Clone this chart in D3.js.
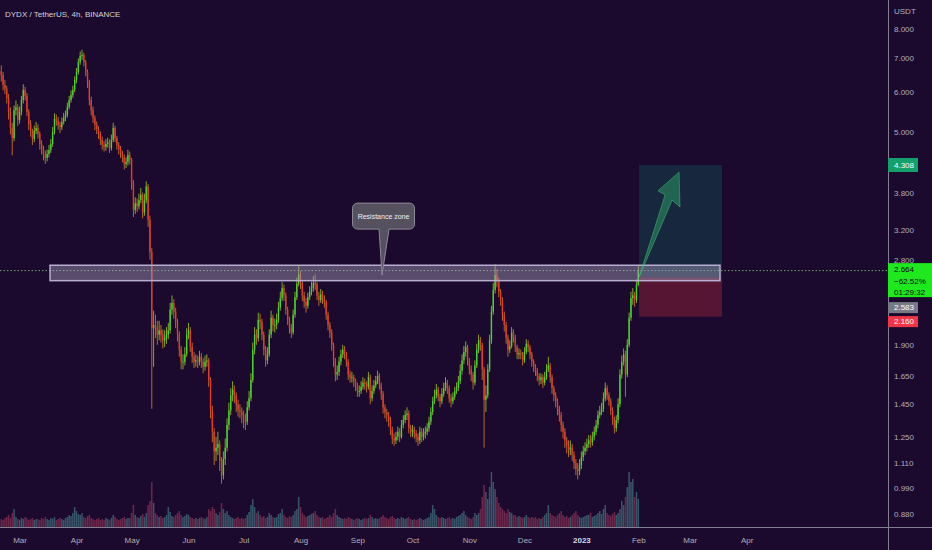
<!DOCTYPE html>
<html><head><meta charset="utf-8">
<script src="https://cdn.jsdelivr.net/npm/d3@7"></script>
<style>html,body{margin:0;padding:0;background:#1b0a2d;}svg{display:block}</style>
</head><body><svg id="c" width="932" height="550"></svg>
<script>
// ---------------- DATA ----------------
const chartTitle = "DYDX / TetherUS, 4h, BINANCE";
const currencyLabel = "USDT";
const firstDate = "2022-02-19";          // first daily candle
const firstOpen = 6.60;
const closes = [
6.49,6.20,6.10,5.85,5.48,5.10,4.87,5.53,5.60,5.29,
5.48,5.79,6.06,5.90,5.48,5.19,5.01,4.85,5.03,5.10,
4.96,4.74,4.63,4.51,4.45,4.53,4.61,4.74,5.01,5.31,
5.27,5.17,5.12,5.24,5.34,5.41,5.61,5.79,5.92,6.06,
6.34,6.58,6.88,7.08,7.11,6.88,6.58,6.28,5.79,5.53,
5.34,5.17,5.07,4.96,4.83,4.72,4.68,4.74,4.77,4.65,
4.83,5.10,4.87,4.72,4.63,4.55,4.47,4.33,4.37,4.51,
4.41,3.98,3.51,3.62,3.57,3.67,3.76,3.47,3.67,3.91,
3.36,2.90,2.05,2.08,2.06,1.99,2.03,1.99,1.94,1.96,
1.99,2.03,2.23,2.30,2.21,2.11,1.99,1.86,1.76,1.76,
1.82,1.99,2.03,1.88,1.80,1.76,1.77,1.76,1.80,1.76,
1.72,1.76,1.77,1.62,1.41,1.28,1.17,1.19,1.21,1.12,
1.05,1.13,1.19,1.32,1.41,1.51,1.55,1.51,1.45,1.41,
1.40,1.38,1.35,1.34,1.43,1.49,1.62,1.86,1.99,1.96,
2.13,2.11,1.99,1.86,1.77,1.82,1.99,2.15,2.08,2.08,
2.13,2.25,2.35,2.46,2.38,2.23,2.13,2.05,2.01,2.18,
2.36,2.51,2.62,2.52,2.38,2.31,2.27,2.36,2.42,2.46,
2.52,2.50,2.38,2.33,2.39,2.35,2.31,2.18,2.08,2.01,
1.90,1.77,1.66,1.68,1.76,1.82,1.86,1.82,1.76,1.66,
1.64,1.64,1.61,1.58,1.54,1.54,1.57,1.60,1.59,1.57,
1.64,1.49,1.54,1.58,1.61,1.65,1.58,1.52,1.43,1.40,
1.38,1.35,1.29,1.24,1.23,1.25,1.28,1.25,1.32,1.35,
1.38,1.39,1.30,1.28,1.29,1.27,1.25,1.23,1.28,1.25,
1.27,1.28,1.30,1.34,1.40,1.47,1.51,1.55,1.50,1.47,
1.52,1.56,1.60,1.56,1.49,1.47,1.50,1.54,1.56,1.61,
1.69,1.77,1.84,1.88,1.77,1.70,1.66,1.60,1.73,1.86,
1.94,1.90,1.70,1.48,1.51,1.70,1.94,2.21,2.44,2.61,
2.55,2.42,2.33,2.18,2.08,1.96,1.86,1.89,2.01,1.96,
1.88,1.82,1.83,1.82,1.77,1.84,1.91,1.88,1.82,1.76,
1.72,1.69,1.65,1.62,1.64,1.60,1.64,1.70,1.73,1.64,
1.56,1.51,1.47,1.42,1.38,1.32,1.28,1.23,1.20,1.18,
1.19,1.15,1.11,1.08,1.07,1.10,1.14,1.17,1.19,1.21,
1.23,1.22,1.25,1.28,1.32,1.38,1.40,1.42,1.49,1.56,
1.51,1.47,1.41,1.35,1.30,1.35,1.45,1.66,1.76,1.82,
1.66,1.90,2.15,2.35,2.38,2.33,2.50,2.664];
const highs = [
6.78,6.58,6.35,6.18,5.95,5.60,5.22,5.65,5.78,5.68,
5.62,5.90,6.22,6.15,5.98,5.55,5.28,5.08,5.15,5.24,
5.18,5.02,4.82,4.70,4.60,4.62,4.72,4.85,5.12,5.45,
5.42,5.36,5.25,5.35,5.46,5.52,5.72,5.90,6.05,6.18,
6.45,6.70,7.00,7.22,7.28,7.18,6.95,6.65,6.35,5.88,
5.62,5.40,5.25,5.14,5.02,4.90,4.80,4.85,4.88,4.84,
4.95,5.22,5.15,4.92,4.78,4.70,4.60,4.52,4.46,4.62,
4.58,4.45,4.02,3.72,3.70,3.78,3.88,3.80,3.78,4.00,
3.95,3.42,2.95,2.22,2.18,2.12,2.12,2.08,2.04,2.03,
2.06,2.10,2.30,2.38,2.34,2.25,2.14,2.02,1.89,1.82,
1.88,2.05,2.10,2.06,1.92,1.84,1.82,1.81,1.85,1.83,
1.79,1.81,1.82,1.79,1.64,1.44,1.30,1.25,1.28,1.23,
1.14,1.17,1.24,1.36,1.46,1.56,1.61,1.58,1.53,1.48,
1.45,1.43,1.41,1.39,1.47,1.54,1.67,1.92,2.06,2.04,
2.20,2.19,2.14,2.02,1.89,1.88,2.04,2.22,2.18,2.14,
2.19,2.31,2.42,2.53,2.50,2.41,2.26,2.16,2.09,2.23,
2.42,2.58,2.72,2.66,2.55,2.42,2.35,2.41,2.48,2.53,
2.60,2.62,2.53,2.42,2.45,2.43,2.38,2.33,2.21,2.11,
2.04,1.92,1.79,1.73,1.80,1.86,1.90,1.89,1.84,1.78,
1.69,1.68,1.66,1.63,1.60,1.58,1.61,1.64,1.63,1.61,
1.68,1.66,1.58,1.62,1.65,1.69,1.67,1.60,1.54,1.45,
1.42,1.40,1.37,1.31,1.27,1.28,1.31,1.30,1.35,1.38,
1.41,1.43,1.41,1.32,1.32,1.31,1.29,1.27,1.31,1.30,
1.30,1.31,1.33,1.37,1.43,1.50,1.55,1.59,1.57,1.52,
1.56,1.60,1.64,1.62,1.58,1.52,1.53,1.57,1.60,1.65,
1.74,1.82,1.89,1.93,1.90,1.79,1.73,1.68,1.77,1.91,
1.99,1.97,1.92,1.72,1.58,1.74,1.99,2.27,2.52,2.74,
2.68,2.58,2.45,2.36,2.21,2.11,1.99,1.94,2.06,2.04,
1.99,1.90,1.87,1.86,1.84,1.88,1.95,1.94,1.90,1.84,
1.78,1.74,1.71,1.67,1.67,1.66,1.68,1.74,1.80,1.75,
1.66,1.58,1.53,1.49,1.44,1.40,1.34,1.30,1.25,1.23,
1.23,1.21,1.17,1.13,1.11,1.13,1.17,1.20,1.22,1.24,
1.26,1.26,1.28,1.31,1.35,1.41,1.44,1.46,1.53,1.60,
1.58,1.53,1.49,1.43,1.37,1.38,1.49,1.70,1.81,1.87,
1.85,1.95,2.20,2.42,2.46,2.42,2.56,2.72];
const lows = [
6.30,6.05,5.95,5.70,5.30,4.95,4.50,4.80,5.40,5.15,
5.20,5.40,5.70,5.78,5.38,5.05,4.90,4.72,4.78,4.96,
4.86,4.62,4.52,4.40,4.33,4.38,4.46,4.55,4.68,4.95,
5.15,5.06,4.98,5.05,5.18,5.26,5.35,5.55,5.72,5.85,
6.00,6.25,6.50,6.80,6.95,6.75,6.45,6.12,5.65,5.40,
5.22,5.05,4.96,4.85,4.72,4.62,4.58,4.60,4.66,4.55,
4.60,4.78,4.78,4.62,4.52,4.45,4.36,4.22,4.25,4.30,
4.32,3.85,3.40,3.45,3.48,3.52,3.62,3.38,3.42,3.62,
3.25,2.80,1.42,1.72,1.96,1.90,1.94,1.92,1.87,1.88,
1.91,1.95,2.00,2.18,2.14,2.05,1.93,1.80,1.70,1.70,
1.73,1.80,1.95,1.84,1.75,1.71,1.72,1.71,1.73,1.71,
1.67,1.69,1.72,1.57,1.36,1.22,1.10,1.12,1.15,1.07,
1.01,1.03,1.10,1.17,1.29,1.38,1.47,1.46,1.40,1.37,
1.36,1.33,1.30,1.29,1.32,1.41,1.47,1.60,1.82,1.90,
1.93,2.04,1.94,1.81,1.72,1.74,1.80,1.96,2.02,2.01,
2.04,2.10,2.22,2.32,2.32,2.18,2.08,2.00,1.96,1.99,
2.15,2.33,2.48,2.45,2.32,2.25,2.20,2.24,2.33,2.38,
2.42,2.44,2.33,2.27,2.30,2.29,2.25,2.13,2.03,1.96,
1.85,1.72,1.61,1.62,1.65,1.73,1.79,1.78,1.72,1.62,
1.60,1.60,1.57,1.54,1.50,1.50,1.52,1.55,1.55,1.53,
1.55,1.45,1.47,1.52,1.56,1.59,1.55,1.48,1.39,1.36,
1.34,1.31,1.26,1.21,1.20,1.21,1.23,1.22,1.24,1.30,
1.33,1.35,1.27,1.25,1.25,1.24,1.22,1.20,1.21,1.22,
1.23,1.24,1.26,1.28,1.32,1.38,1.45,1.49,1.47,1.43,
1.45,1.50,1.54,1.52,1.46,1.43,1.45,1.48,1.52,1.54,
1.59,1.66,1.74,1.80,1.73,1.66,1.61,1.55,1.58,1.71,
1.83,1.85,1.62,1.19,1.40,1.49,1.68,1.91,2.18,2.40,
2.47,2.36,2.27,2.12,2.02,1.91,1.80,1.83,1.87,1.92,
1.84,1.78,1.78,1.78,1.73,1.75,1.82,1.84,1.78,1.72,
1.68,1.65,1.61,1.58,1.59,1.56,1.58,1.62,1.68,1.60,
1.52,1.47,1.43,1.38,1.34,1.28,1.24,1.19,1.16,1.14,
1.15,1.12,1.08,1.05,1.03,1.05,1.08,1.12,1.15,1.17,
1.19,1.19,1.20,1.23,1.26,1.30,1.36,1.38,1.40,1.47,
1.48,1.44,1.38,1.32,1.27,1.28,1.33,1.43,1.63,1.73,
1.50,1.64,1.88,2.12,2.28,2.26,2.30,2.48];
const volumes = [
8,7,9,10,12,9,14,18,10,8,
7,9,8,10,9,7,8,9,7,8,
8,7,9,8,10,8,7,9,8,10,
7,8,9,8,7,9,10,12,11,14,
20,16,13,12,14,10,9,11,12,9,
8,7,8,9,7,8,7,9,8,7,
9,12,10,8,7,8,9,10,8,9,
9,14,22,12,10,9,11,13,10,14,
22,26,45,24,14,12,10,11,9,10,
12,20,15,11,10,12,14,16,12,10,
11,13,12,10,9,8,9,8,9,10,
9,8,10,18,16,20,18,14,12,15,
24,18,14,16,12,10,9,8,9,10,
8,9,8,9,12,15,22,28,20,14,
16,12,10,11,9,10,14,12,10,9,
10,13,14,18,12,10,9,11,10,12,
16,18,30,20,14,12,10,11,12,13,
14,16,12,10,9,10,8,9,10,12,
10,14,18,12,10,9,8,9,8,10,
9,8,7,8,9,8,7,8,9,8,
9,12,10,8,9,8,9,10,12,10,
9,8,10,11,9,8,9,8,10,9,
8,9,10,8,7,8,7,8,9,8,
7,8,9,10,14,22,18,12,10,9,
10,9,8,9,10,8,9,8,10,11,
12,14,16,12,10,9,8,10,14,12,
14,18,30,42,35,28,40,55,45,38,
30,24,20,18,16,14,18,15,14,12,
12,10,11,10,9,10,12,10,9,10,
9,10,8,9,8,10,12,14,22,14,
12,11,10,12,14,16,12,10,11,9,
10,12,14,16,12,10,9,10,11,12,
12,14,10,11,12,14,16,13,18,22,
14,12,11,13,15,12,14,18,26,22,
30,40,55,45,48,30,35,28];
const priceTicks = [8,7,6,5,3.8,3.2,2.8,1.9,1.65,1.45,1.25,1.11,0.99,0.88];
const monthTicks = ["2022-03-01","2022-04-01","2022-05-01","2022-06-01","2022-07-01","2022-08-01","2022-09-01",
  "2022-10-01","2022-11-01","2022-12-01","2023-01-01","2023-02-01","2023-03-01","2023-04-01"];
const zoneTop = 2.73, zoneBottom = 2.545, zoneStart = "2022-03-17T14:00Z", zoneEnd = "2023-03-17T12:00Z";
const calloutText = "Resistance zone", calloutDate = "2022-09-14T10:00Z", calloutPrice = 2.61;
const entryPrice = 2.583, targetPrice = 4.308, stopPrice = 2.160;
const positionStart = "2023-02-01T10:00Z", positionEnd = "2023-03-18T14:00Z";
const lastPrice = 2.664, lastChange = "−62.52%", countdown = "01:29:32";
// arrow outline (date, price)
const arrowPoints = [["2023-02-01T12:00Z",2.59],["2023-02-15T14:00Z",3.76],["2023-02-11T17:00Z",3.83],
  ["2023-02-23T05:00Z",4.17],["2023-02-23T17:00Z",3.56],["2023-02-19T10:00Z",3.67]];

// ---------------- DRAW ----------------
const W = 932, H = 550, plotR = 888, plotB = 527;
const svg = d3.select("#c");
const font = "'Liberation Sans', Arial, sans-serif";
svg.append("rect").attr("width", W).attr("height", H).attr("fill", "#1b0a2d");

const x = d3.scaleUtc().domain([new Date("2022-03-01T00:00Z"), new Date("2023-02-01T00:00Z")]).range([19.6, 638.3]);
const y = d3.scaleLog().domain([0.88, 8]).range([514, 29]);
const v = d3.scaleLinear().domain([0, 100]).range([plotB, plotB - 100]);

const t0 = new Date(firstDate + "T00:00Z").getTime();
const candles = closes.map((c, i) => ({
  date: new Date(t0 + i * 86400000),
  o: i === 0 ? firstOpen : closes[i - 1], c, h: highs[i], l: lows[i], vol: volumes[i]
}));

svg.append("defs").append("clipPath").attr("id", "plot")
  .append("rect").attr("x", 0).attr("y", 0).attr("width", plotR).attr("height", plotB);
const g = svg.append("g").attr("clip-path", "url(#plot)");

// volume
g.append("g").selectAll("rect").data(candles).join("rect")
  .attr("x", d => x(d.date) - 0.75).attr("width", 1.5)
  .attr("y", d => v(d.vol)).attr("height", d => plotB - v(d.vol))
  .attr("fill", d => d.c >= d.o ? "rgba(80,150,155,0.55)" : "rgba(190,70,105,0.5)");

// candles
const cg = g.append("g");
cg.selectAll("line").data(candles).join("line")
  .attr("x1", d => x(d.date)).attr("x2", d => x(d.date))
  .attr("y1", d => y(d.h)).attr("y2", d => y(d.l))
  .attr("stroke", d => d.c >= d.o ? "#9ccf2a" : "#e0802a").attr("stroke-width", 0.8);
cg.selectAll("rect").data(candles).join("rect")
  .attr("x", d => x(d.date) - 0.7).attr("width", 1.4)
  .attr("y", d => y(Math.max(d.o, d.c)))
  .attr("height", d => Math.max(0.8, Math.abs(y(d.o) - y(d.c))))
  .attr("fill", d => d.c >= d.o ? "#43d62c" : "#e8392a");

// last price dotted line
g.append("line").attr("x1", 0).attr("x2", plotR).attr("y1", y(lastPrice)).attr("y2", y(lastPrice))
  .attr("stroke", "#6fa86f").attr("stroke-width", 1).attr("stroke-dasharray", "1.5,2");

// position tool
const px0 = x(new Date(positionStart)), px1 = x(new Date(positionEnd));
g.append("rect").attr("x", px0).attr("width", px1 - px0)
  .attr("y", y(targetPrice)).attr("height", y(entryPrice) - y(targetPrice))
  .attr("fill", "rgba(8,153,129,0.2)");
g.append("rect").attr("x", px0).attr("width", px1 - px0)
  .attr("y", y(entryPrice)).attr("height", y(stopPrice) - y(entryPrice))
  .attr("fill", "rgba(242,54,69,0.28)");

// resistance zone
const zx0 = x(new Date(zoneStart)), zx1 = x(new Date(zoneEnd));
g.append("rect").attr("x", zx0).attr("width", zx1 - zx0)
  .attr("y", y(zoneTop)).attr("height", y(zoneBottom) - y(zoneTop))
  .attr("fill", "rgba(165,156,185,0.45)").attr("stroke", "#b8aed0").attr("stroke-width", 1.5);

// arrow
g.append("path")
  .attr("d", d3.line()(arrowPoints.map(p => [x(new Date(p[0])), y(p[1])])) + "Z")
  .attr("fill", "rgba(45,175,105,0.45)").attr("stroke", "rgba(80,200,120,0.6)").attr("stroke-width", 0.8);

// callout
const tipX = x(new Date(calloutDate)), tipY = y(calloutPrice);
const bw = 62, bh = 26, bx = tipX - 29.5, by = tipY - 72, r = 5;
const tl = tipX - 3, tr = tipX + 7;
const cp = d3.path();
cp.moveTo(bx + r, by); cp.lineTo(bx + bw - r, by); cp.arcTo(bx + bw, by, bx + bw, by + r, r);
cp.lineTo(bx + bw, by + bh - r); cp.arcTo(bx + bw, by + bh, bx + bw - r, by + bh, r);
cp.lineTo(tr, by + bh); cp.lineTo(tipX, tipY); cp.lineTo(tl, by + bh);
cp.lineTo(bx + r, by + bh); cp.arcTo(bx, by + bh, bx, by + bh - r, r);
cp.lineTo(bx, by + r); cp.arcTo(bx, by, bx + r, by, r); cp.closePath();
g.append("path").attr("d", cp.toString()).attr("fill", "#55515f").attr("stroke", "#8e8a9a").attr("stroke-width", 1);
g.append("text").attr("x", bx + bw / 2).attr("y", by + bh / 2).attr("dy", "0.35em")
  .attr("text-anchor", "middle").attr("fill", "#f0f0f4").attr("font-family", font).attr("font-size", 7)
  .text(calloutText);

// title
svg.append("text").attr("x", 5).attr("y", 14).attr("dy", "0.35em").attr("fill", "#d1d4dc")
  .attr("font-family", font).attr("font-size", 8).text(chartTitle);

// pane borders
svg.append("line").attr("x1", plotR + 0.5).attr("x2", plotR + 0.5).attr("y1", 0).attr("y2", H)
  .attr("stroke", "#847e93").attr("stroke-width", 1);
svg.append("line").attr("x1", 0).attr("x2", W).attr("y1", plotB + 0.5).attr("y2", plotB + 0.5)
  .attr("stroke", "#847e93").attr("stroke-width", 1);

// y axis
const ya = svg.append("g").attr("transform", `translate(${plotR},0)`)
  .call(d3.axisRight(y).tickValues(priceTicks).tickSize(0).tickPadding(6).tickFormat(d3.format(".3f")));
ya.select(".domain").remove();
ya.selectAll("text").attr("fill", "#b2afbb").attr("font-family", font).attr("font-size", 8);
svg.append("text").attr("x", plotR + 6).attr("y", 11).attr("dy", "0.35em").attr("fill", "#b2afbb")
  .attr("font-family", font).attr("font-size", 8).text(currencyLabel);

// x axis
const xa = svg.append("g").attr("transform", `translate(0,${plotB})`)
  .call(d3.axisBottom(x).tickValues(monthTicks.map(s => new Date(s + "T00:00Z"))).tickSize(0).tickPadding(10)
    .tickFormat(d => d.getUTCMonth() === 0 ? String(d.getUTCFullYear()) : d3.utcFormat("%b")(d)));
xa.select(".domain").remove();
xa.selectAll("text").attr("fill", d => d.getUTCMonth() === 0 ? "#dcdce4" : "#b2afbb")
  .attr("font-weight", d => d.getUTCMonth() === 0 ? "bold" : "normal")
  .attr("font-family", font).attr("font-size", 8);

// price labels on axis
const f3 = d3.format(".3f");
function label(yTop, h, w, fill, color, lines, firstOffset) {
  svg.append("rect").attr("x", plotR).attr("y", yTop).attr("width", w).attr("height", h).attr("fill", fill);
  lines.forEach((t, k) => svg.append("text").attr("x", plotR + 6).attr("y", yTop + firstOffset + k * 11.3).attr("dy", "0.35em")
    .attr("fill", color).attr("font-family", font).attr("font-size", 8).text(t));
}
label(y(targetPrice) - 7, 14, 30, "#14a06c", "#ffffff", [f3(targetPrice)], 7);
const curTop = y(lastPrice) - 7.5;
label(curTop, 34, W - plotR, "#1ee81e", "#0a0a0a", [f3(lastPrice), lastChange, countdown], 6.5);
label(curTop + 39, 11, 30, "#787b86", "#ffffff", [f3(entryPrice)], 5.5);
label(curTop + 53, 11, 30, "#f23645", "#ffffff", [f3(stopPrice)], 5.5);
</script></body></html>
